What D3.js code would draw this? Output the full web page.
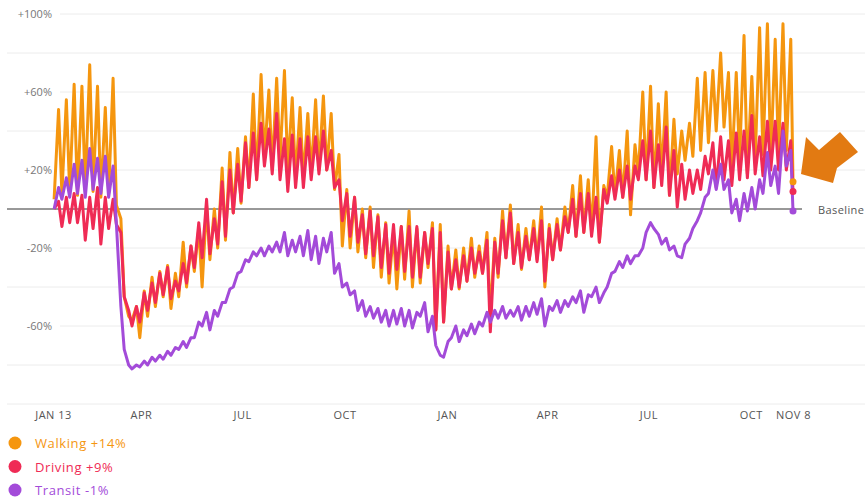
<!DOCTYPE html>
<html>
<head>
<meta charset="utf-8">
<script src="https://d3js.org/d3.v7.min.js"></script>
<style>
  body { margin: 0; background: #fff; }
  text { font-family: "Open Sans", "DejaVu Sans", sans-serif; }
  .axis path { display: none; }
  .axis line { display: none; }
</style>
</head>
<body>
<script type="text/javascript">

  // weekly values: "low" ~ midweek, "high" ~ Saturday
  var startDate = new Date(2020, 0, 13);
  var endDate = new Date(2021, 10, 8);

  var walkLow = [5, 8, 9, 7, 10, 9, 6, 8, 2,
    -45,
    -57, -66, -55, -50, -45, -51, -45,
    -40, -32, -40, -26, -20, -16, -2, 3, 11, 15, 27, 20, 25, 20,
    15, 15, 18, 20, 20, 10, -19, -20, -22, -25, -30, -35, -38, -41, -36, -40,
    -38, -30, -62, -58, -41, -41, -37, -35, -33, -55, -35, -25, -28, -31, -26, -26,
    -40, -26, -21, -12, -14, -12, -12, -17, 6, 7, 6, -3, 18, 15, 11, 18, 7,
    18, 25, 27, 30, 34, 40, 42, 20, 25, 18, 25, 28, 25, 28, 30];
  var walkHigh = [51, 56, 64, 63, 74, 63, 52, 67, -5,
    -55,
    -50, -42, -35, -32, -29, -33, -17,
    -19, -10, 2, 0, 21, 29, 31, 37, 59, 69, 61, 67, 71, 57,
    52, 49, 56, 58, 49, 28, 10, 6, 0, 1, -3, -7, -12, -9, -1, -10,
    -12, -7, -8, -19, -21, -20, -15, -19, -12, -15, -1, 2, -8, -10, -6, 1,
    -8, -5, 1, 12, 17, 15, 37, 12, 32, 30, 40, 33, 60, 63, 54, 60, 46,
    40, 44, 67, 70, 71, 80, 70, 70, 89, 68, 93, 95, 87, 95, 87];

  var driveLow = [0, -9, -7, -7, -16, -10, -18, -10, -8,
    -45,
    -60, -58, -52, -48, -44, -46, -42,
    -38, -30, -25, -23, -18, -14, -2, 4, 11, 15, 22, 18, 15, 9,
    11, 11, 15, 18, 20, 11, -6, -14, -17, -23, -24, -30, -33, -31, -32, -35,
    -35, -28, -62, -58, -41, -40, -37, -33, -33, -63, -33, -25, -28, -30, -26, -27,
    -37, -26, -21, -12, -14, -12, -14, -17, 3, 5, 6, 5, 15, 15, 11, 12, 7,
    1, 5, 8, 10, 18, 11, 15, 12, 15, 16, 18, 17, 20, 20, 20];
  var driveHigh = [4, 6, 8, 7, 6, 11, 6, 5, -12,
    -52,
    -50, -43, -38, -33, -30, -37, -28,
    -19, -7, 5, -5, 14, 20, 23, 34, 39, 44, 41, 49, 36, 38,
    36, 37, 37, 40, 30, 15, 8, 6, -3, -1, -4, -8, -8, -9, -9, -9,
    -12, -10, -12, -22, -26, -24, -20, -22, -16, -17, -6, -2, -12, -14, -10, -6,
    -10, -8, -4, 5, 8, 8, 6, 10, 17, 20, 22, 22, 35, 40, 33, 42, 30,
    23, 20, 20, 27, 34, 37, 35, 39, 40, 48, 37, 45, 45, 44, 35];

  var transitLow = [0, 5, 6, 8, 6, 10, 8, 6, -8,
    -72,
    -82, -81, -80, -78, -77, -75, -72,
    -71, -66, -60, -62, -55, -48, -40, -32, -27, -24, -24, -22, -22, -24,
    -22, -24, -26, -28, -22, -33, -40, -44, -52, -55, -56, -58, -60, -59, -60, -61,
    -55, -63, -70, -76, -66, -68, -65, -64, -60, -58, -56, -56, -55, -57, -55, -54,
    -60, -52, -53, -50, -48, -53, -45, -48, -40, -32, -30, -28, -24, -12, -10, -18, -21,
    -24, -18, -10, -2, 8, 10, 10, -2, -6, -1, 0, 8, 12, 8, 22];
  var transitHigh = [11, 16, 23, 25, 31, 26, 27, 22, -50,
    -80,
    -80, -78, -76, -75, -73, -71, -68,
    -66, -58, -53, -52, -48, -41, -33, -26, -22, -20, -19, -17, -12, -16,
    -14, -11, -14, -15, -12, -28, -38, -42, -47, -50, -51, -52, -52, -51, -52, -53,
    -48, -55, -75, -68, -60, -62, -59, -58, -53, -52, -50, -52, -50, -50, -48, -46,
    -50, -47, -47, -45, -42, -44, -40, -43, -33, -27, -24, -24, -20, -7, -13, -15, -19,
    -25, -15, -6, 6, 20, 23, 15, 5, 8, 11, 15, 29, 22, 40, 30];

  var seriesNames = ["Walking", "Driving", "Transit"];
  var latest = [14, 9, -1];
  var colors = ["#f5960f", "#ef2b55", "#a34bd9"];

  var gridTicks = [100, 80, 60, 40, 20, -20, -40, -60, -80, -100];
  var labelTicks = [100, 60, 20, -20, -60];
  var xTickDates = [new Date(2020, 0, 13), new Date(2020, 3, 1), new Date(2020, 6, 1),
    new Date(2020, 9, 1), new Date(2021, 0, 1), new Date(2021, 3, 1), new Date(2021, 6, 1),
    new Date(2021, 9, 1), new Date(2021, 10, 8)];
  var xTickLabels = ["JAN 13", "APR", "JUL", "OCT", "JAN", "APR", "JUL", "OCT", "NOV 8"];

  var w = 865, h = 498;

  var svg = d3.select("body").append("svg")
      .attr("width", w)
      .attr("height", h);

  var x = d3.scaleTime().domain([startDate, endDate]).range([53, 793]);
  var y = d3.scaleLinear().domain([-100, 100]).range([404, 14]);

  // gridlines
  svg.append("g").selectAll("line")
    .data(gridTicks)
    .enter().append("line")
      .attr("x1", function(d) { return labelTicks.indexOf(d) >= 0 ? 60 : 7; })
      .attr("x2", w)
      .attr("y1", function(d) { return y(d); })
      .attr("y2", function(d) { return y(d); })
      .attr("stroke", "#ececec")
      .attr("stroke-width", 1);

  // baseline
  svg.append("line")
      .attr("x1", 7).attr("x2", 802)
      .attr("y1", y(0)).attr("y2", y(0))
      .attr("stroke", "#333")
      .attr("stroke-width", 1);

  svg.append("text")
      .attr("x", 818)
      .attr("y", y(0) + 5)
      .attr("font-size", "11px")
      .attr("letter-spacing", "0.4px")
      .attr("fill", "#555")
      .text("Baseline");

  // y labels
  svg.append("g")
      .attr("class", "axis")
      .attr("transform", "translate(53,0)")
      .call(d3.axisLeft(y).tickValues(labelTicks).tickSize(0).tickPadding(1)
        .tickFormat(function(d) { return (d > 0 ? "+" : "") + d + "%"; }))
      .selectAll("text")
        .attr("font-size", "11px")
        .attr("fill", "#777");

  // x labels
  svg.append("g")
      .attr("class", "axis")
      .attr("transform", "translate(0,404)")
      .call(d3.axisBottom(x).tickValues(xTickDates).tickSize(0).tickPadding(7)
        .tickFormat(function(d, i) { return xTickLabels[i]; }))
      .selectAll("text")
        .attr("font-size", "11px")
        .attr("letter-spacing", "0.5px")
        .attr("fill", "#555");

  function buildSeries(lows, highs, last) {
    var pts = [];
    for (var i = 0; i < lows.length; i++) {
      pts.push({ date: d3.timeDay.offset(startDate, 7 * i + 1), v: lows[i] });
      pts.push({ date: d3.timeDay.offset(startDate, 7 * i + 5), v: highs[i] });
    }
    pts.push({ date: endDate, v: last });
    return pts;
  }

  var series = [
    buildSeries(walkLow, walkHigh, latest[0]),
    buildSeries(driveLow, driveHigh, latest[1]),
    buildSeries(transitLow, transitHigh, latest[2])
  ];

  var line = d3.line()
      .x(function(d) { return x(d.date); })
      .y(function(d) { return y(d.v); });

  svg.append("g").selectAll("path")
    .data(series)
    .enter().append("path")
      .attr("d", line)
      .attr("fill", "none")
      .attr("stroke", function(d, i) { return colors[i]; })
      .attr("stroke-width", 3)
      .attr("stroke-linejoin", "round");

  // end dots
  svg.append("g").selectAll("circle")
    .data(latest)
    .enter().append("circle")
      .attr("cx", x(endDate))
      .attr("cy", function(d) { return y(d); })
      .attr("r", 3.5)
      .attr("fill", function(d, i) { return colors[i]; });

  // arrow
  svg.append("polygon")
      .attr("points", "801,174 806,137 819,150 840,132 858,152 837,168 833,183")
      .attr("fill", "#e27a12");

  // legend
  var legend = svg.append("g").selectAll("g")
    .data(seriesNames)
    .enter().append("g")
      .attr("transform", function(d, i) { return "translate(0," + (443 + i * 23.5) + ")"; });

  legend.append("circle")
      .attr("cx", 15)
      .attr("r", 6.5)
      .attr("fill", function(d, i) { return colors[i]; });

  legend.append("text")
      .attr("x", 35)
      .attr("y", 5)
      .attr("font-size", "13px")
      .attr("letter-spacing", "0.6px")
      .attr("fill", function(d, i) { return colors[i]; })
      .text(function(d, i) { return d + " " + (latest[i] > 0 ? "+" : "") + latest[i] + "%"; });

</script>
</body>
</html>
